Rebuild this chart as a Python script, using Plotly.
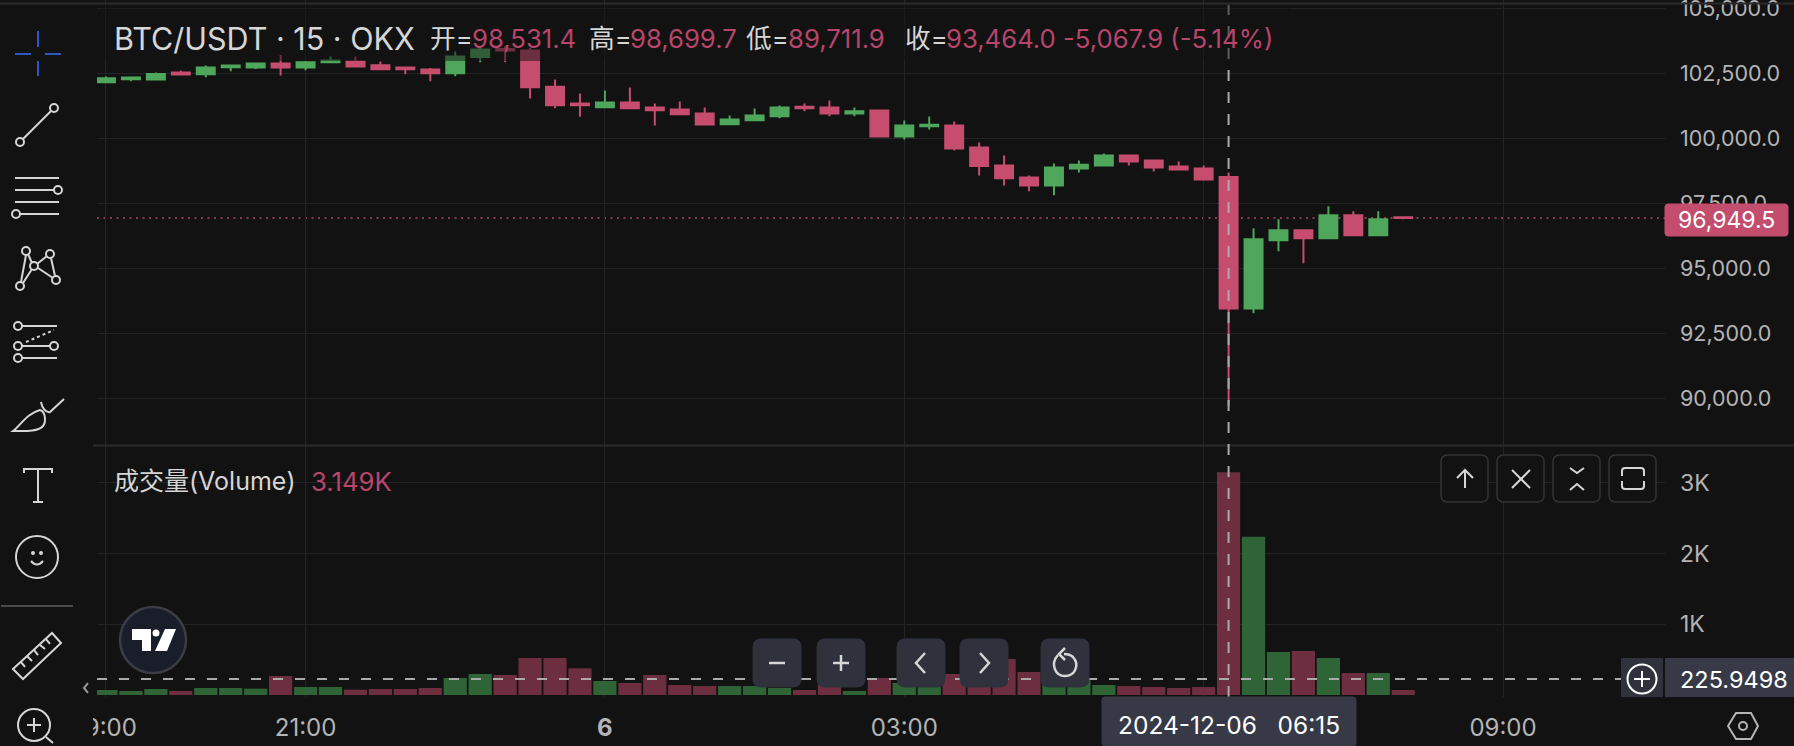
import re

import pandas as pd
import plotly.graph_objects as go
from plotly.subplots import make_subplots

W, H = 1794, 746

times = pd.date_range("2024-12-05 19:00", periods=53, freq="15min")

opens = [102179, 102294, 102281, 102550, 102486, 102756, 102743, 102897, 102743, 102948,
         102973, 102832, 102743, 102666, 102525, 103153, 103461, 103397, 101999, 101358,
         101217, 101397, 101204, 101127, 100974, 100563, 100717, 100871, 101230, 101204,
         100974, 101089, 100089, 100486, 100512, 99666, 98974, 98512, 98204, 98858,
         98974, 99358, 99166, 98935, 98858, 98531.4, 93464, 96089, 96474, 96166,
         97051, 96281, 96980]
highs = [102397, 102384, 102550, 102627, 102820, 102832, 102935, 103230, 102999, 103166,
         103166, 102973, 102768, 102730, 103358, 103563, 103563, 103499, 102281, 101743,
         101858, 101974, 101358, 101435, 101204, 100897, 101166, 101281, 101358, 101474,
         101204, 101089, 100704, 100858, 100666, 99858, 99358, 98589, 99051, 99166,
         99435, 99358, 99166, 99127, 98974, 98699.7, 96551, 96897, 96474, 97397,
         97204, 97204, 96980]
lows = [102179, 102217, 102256, 102435, 102371, 102602, 102691, 102435, 102640, 102909,
        102781, 102666, 102486, 102217, 102409, 102948, 102948, 101550, 101179, 100845,
        101217, 101179, 100512, 100948, 100550, 100525, 100717, 100794, 101063, 100871,
        100871, 100089, 99974, 100358, 99551, 98589, 98204, 97974, 97820, 98704,
        98974, 98974, 98743, 98820, 98435, 89711.9, 93282, 95666, 95205, 96128,
        96281, 96281, 96900]
closes = [102332, 102358, 102499, 102473, 102743, 102820, 102897, 102743, 102948, 103012,
          102781, 102679, 102679, 102525, 103166, 103435, 103397, 101986, 101294, 101294,
          101397, 101179, 101102, 100948, 100550, 100743, 100897, 101204, 101179, 100974,
          101063, 100089, 100512, 100538, 99627, 98948, 98474, 98204, 98897, 98999,
          99358, 99127, 98897, 98820, 98435, 93464, 96128, 96474, 96166, 97051,
          96281, 96897, 96949.5]
volumes = [71, 57, 85, 57, 99, 99, 90, 269, 113, 113,
           76, 85, 85, 99, 241, 297, 283, 524, 524, 378,
           198, 170, 283, 142, 127, 127, 127, 99, 71, 142,
           57, 241, 170, 170, 297, 227, 510, 326, 180, 227,
           142, 127, 113, 99, 113, 3149, 2240, 609, 623, 524,
           311, 311, 71]

x_tick_vals = ["2024-12-05 19:00", "2024-12-05 21:00", "2024-12-06 00:00",
               "2024-12-06 03:00", "2024-12-06 06:00", "2024-12-06 09:00"]
# 06:00 sits under the crosshair date tag, only its gridline shows
x_tick_text = ["19:00", "21:00", "<b>6</b>", "03:00", "", "09:00"]
x_range = ["2024-12-05 18:54:36", "2024-12-06 10:37:24"]
price_ticks = [90000, 92500, 95000, 97500, 100000, 102500, 105000]
volume_ticks = [1000, 2000, 3000]
volume_tick_text = ["1K", "2K", "3K"]

last_price = 96949.5
cursor_time = "2024-12-06 06:15"
cursor_volume = 225.9498

BG = "#121213"
GRID = "#242426"
RED = "#c64d6f"
GREEN = "#4fa75c"
RED_TEXT = "#b8456a"
RED_VOL = "#6d2e40"
GREEN_VOL = "#2f6536"
AXIS_TEXT = "#b4b4b4"
ICON = "#d6d6d6"
TAG = "#373a46"
BTN = "#2f323c"
FONT = "Inter, 'Noto Sans CJK SC', sans-serif"


def path(d, color=ICON, width=2, fill="rgba(0,0,0,0)", dash="solid"):
    # d is written in screen pixels, converted to paper coordinates
    conv = re.sub(r"(-?[\d.]+),(-?[\d.]+)",
                  lambda m: f"{float(m[1]) / W:.5f},{1 - float(m[2]) / H:.5f}", d)
    return dict(type="path", path=conv, xref="paper", yref="paper",
                line=dict(color=color, width=width, dash=dash), fillcolor=fill, layer="above")


def circle(cx, cy, r, color=ICON, fill="rgba(0,0,0,0)", width=2):
    return dict(type="circle", xref="paper", yref="paper",
                x0=(cx - r) / W, x1=(cx + r) / W, y0=1 - (cy + r) / H, y1=1 - (cy - r) / H,
                line=dict(color=color, width=width), fillcolor=fill, layer="above")


def rrect(x0, y0, x1, y1, r, fill, color=None, width=1):
    d = (f"M{x0 + r},{y0} L{x1 - r},{y0} Q{x1},{y0} {x1},{y0 + r} L{x1},{y1 - r} "
         f"Q{x1},{y1} {x1 - r},{y1} L{x0 + r},{y1} Q{x0},{y1} {x0},{y1 - r} "
         f"L{x0},{y0 + r} Q{x0},{y0} {x0 + r},{y0} Z")
    return path(d, fill=fill, color=color or fill, width=width)


def label(x, y, text, color=AXIS_TEXT, size=25.7, anchor="left"):
    return dict(x=x / W, y=1 - y / H, xref="paper", yref="paper", text=text, showarrow=False,
                xanchor=anchor, yanchor="middle", font=dict(family=FONT, size=size, color=color))


fig = make_subplots(rows=2, cols=1, shared_xaxes=True, vertical_spacing=0)

fig.add_trace(go.Candlestick(
    x=times, open=opens, high=highs, low=lows, close=closes,
    increasing=dict(line=dict(color=GREEN, width=2), fillcolor=GREEN),
    decreasing=dict(line=dict(color=RED, width=2), fillcolor=RED),
    whiskerwidth=0, showlegend=False, hoverinfo="skip"), row=1, col=1)
fig.add_trace(go.Bar(
    x=times, y=volumes,
    marker=dict(color=[GREEN_VOL if c >= o else RED_VOL for o, c in zip(opens, closes)], line_width=0),
    showlegend=False, hoverinfo="skip"), row=2, col=1)

shapes = []
# last price line sits behind the candles
shapes.append(dict(type="line", xref="paper", yref="y", x0=97 / W, x1=1665 / W, y0=last_price, y1=last_price,
                   line=dict(color="#b0486a", width=1.5, dash="2px 4.5px"), layer="below"))
shapes.append(path("M0,3.5 L1794,3.5", color="#2a2a2c", width=2))
shapes.append(path("M0,445.5 L1794,445.5", color="#2b2b2d", width=2))

# crosshair
shapes.append(dict(type="line", xref="x", yref="paper", x0=cursor_time, x1=cursor_time, y0=1 - 697 / H, y1=1 - 5 / H,
                   line=dict(color="#aaaaaa", width=2, dash="11px 11px"), layer="above"))
shapes.append(dict(type="line", xref="paper", yref="y2", x0=97 / W, x1=1621 / W, y0=cursor_volume, y1=cursor_volume,
                   line=dict(color="#aaaaaa", width=2, dash="10px 12px"), layer="above"))
# legend veil over the candles
shapes.append(path("M100,5 L1290,5 L1290,61 L100,61 Z", fill="rgba(17,17,19,0.5)", color="rgba(0,0,0,0)", width=0))

# left toolbar, covers the clipped first tick label
shapes.append(path("M0,0 L93,0 L93,746 L0,746 Z", fill=BG, color=BG, width=0))
shapes.append(path("M0,3.5 L93,3.5", color="#2a2a2c", width=2))
BLUE = "#2f57c4"
for d in ["M15,54 L31,54", "M45,54 L61,54", "M38,31 L38,47", "M38,61 L38,76"]:
    shapes.append(path(d, color=BLUE, width=2))
shapes += [circle(20, 142, 4), circle(54, 108, 4), path("M23,139 L51,111")]
shapes += [path("M15,178 L59,178"), path("M15,190 L54,190"), path("M15,202 L59,202"), path("M20,214 L59,214"),
           circle(58, 190, 4), circle(16, 214, 4)]
shapes += [circle(26, 251, 4), circle(50, 254, 4), circle(34, 266, 4), circle(20, 286, 4), circle(56, 280, 4),
           path("M26,255 L21,282"), path("M28,254 L32,263"), path("M37,264 L47,256"), path("M38,268 L53,278"),
           path("M51,258 L55,276"), path("M32,269 L23,283")]
shapes += [path("M22,326 L57,326"), path("M22,346 L50,346"), path("M22,358 L57,358"),
           circle(18, 326, 4), circle(18, 346, 4), circle(54, 346, 4), circle(18, 358, 4),
           path("M26,342 L54,330", dash="dot")]
shapes += [path("M13,431 C22,424 26,414 40,410 C46,412 46,422 43,426 C38,432 24,431 13,431 Z"),
           path("M41,402 C42,408 46,413 50,412 L64,399")]
shapes += [path("M24,473 L24,469 L52,469 L52,473"), path("M38,469 L38,502"), path("M33,502 L43,502")]
shapes += [circle(37, 557, 21), circle(33, 553, 1, fill=ICON), circle(41, 553, 1, fill=ICON),
           path("M31,561 Q37,568 43,561")]
shapes.append(path("M1,606 L73,606", color="#4a4a4c", width=2))
shapes += [path("M13,669 L52,633 L61,643 L23,679 Z"), path("M21,662 L25,667"), path("M27,656 L32,661"),
           path("M34,650 L38,655"), path("M40,645 L45,649"), path("M46,639 L50,644")]
shapes += [circle(34, 725, 16), path("M27,725 L41,725"), path("M34,718 L34,732"), path("M46,737 L53,743")]
shapes.append(path("M88,683 L84,688 L88,693", color="#9a9a9a"))

# tradingview badge
shapes.append(circle(153, 640, 33, color="#3c3c44", fill="#1a1d2a", width=2.5))
shapes.append(path("M132,629 L151,629 L151,651 L142,651 L142,640 L132,640 Z", fill="#ffffff", color="#ffffff", width=0))
shapes.append(circle(156, 633, 3.5, color="#ffffff", fill="#ffffff", width=0))
shapes.append(path("M165,629 L176,629 L167,651 L155,651 Z", fill="#ffffff", color="#ffffff", width=0))

# zoom and scroll buttons
for cx in [777, 841, 921, 984, 1065]:
    shapes.append(rrect(cx - 24, 639, cx + 24, 687, 8, BTN))
shapes += [path("M769,663 L785,663", width=2.5), path("M833,663 L849,663", width=2.5), path("M841,655 L841,671", width=2.5),
           path("M925,653 L916,663 L925,673", width=2.5), path("M980,653 L989,663 L980,673", width=2.5),
           path("M1058,655 C1050,664 1055,676 1065,676 C1075,676 1080,665 1073,657 C1071,655 1068,654 1064,654", width=2.5),
           path("M1065,648 L1059,654 L1065,660", width=2.5)]

# pane buttons
for x0 in [1441, 1497, 1553, 1609]:
    shapes.append(rrect(x0, 455, x0 + 47, 502, 7, BG, color="#333335", width=1.5))
shapes += [path("M1465,488 L1465,470"), path("M1457,478 L1465,470 L1473,478"),
           path("M1512,470 L1530,488"), path("M1530,470 L1512,488"),
           path("M1570,468 L1577,473 L1584,468"), path("M1570,490 L1577,484 L1584,490"),
           path("M1622,476 L1622,471 Q1622,468 1625,468 L1641,468 Q1644,468 1644,471 L1644,476"),
           path("M1622,481 L1622,486 Q1622,489 1625,489 L1641,489 Q1644,489 1644,486 L1644,481")]

# right side tags and footer
shapes.append(rrect(1665, 204, 1788, 236, 3, "#c34d6d"))
shapes.append(path("M1621,658 L1663,658 L1663,697 L1621,697 Z", fill=BTN, color=BTN, width=0))
shapes += [circle(1642, 679, 14.5, color="#ffffff"), path("M1634,679 L1650,679", color="#ffffff"),
           path("M1642,671 L1642,687", color="#ffffff")]
shapes.append(path("M1665,658 L1794,658 L1794,697 L1665,697 Z", fill=TAG, color=TAG, width=0))
shapes.append(rrect(1102, 697, 1356, 746, 3, TAG))
shapes += [path("M1728,726 L1736,713 L1751,713 L1758,726 L1751,739 L1736,739 Z", color="#b5b5b5"),
           circle(1743, 726, 4, color="#b5b5b5")]

annotations = [
    label(112, 38, "BTC/USDT · 15 · OKX", ICON, 30.5),
    label(428, 38, "开=", ICON), label(470, 38, f"{opens[45]:,.1f}", RED_TEXT),
    label(587, 38, "高=", ICON), label(628, 38, f"{highs[45]:,.1f}", RED_TEXT),
    label(744, 38, "低=", ICON), label(786, 38, f"{lows[45]:,.1f}", RED_TEXT),
    label(903, 38, "收=", ICON), label(944, 38, f"{closes[45]:,.1f}", RED_TEXT),
    label(1061, 38, "-5,067.9 (-5.14%)", RED_TEXT),
    label(112, 481, "成交量(Volume)", ICON, 25), label(309, 481, "3.149K", RED_TEXT),
    label(1726, 220, f"{last_price:,.1f}", "#ffffff", 23, "center"),
    label(1678, 679, f"{cursor_volume:.4f}", "#ffffff", 23.5),
    label(1229, 725, "2024-12-06 &nbsp;&nbsp;06:15", "#ffffff", 24.5, "center"),
]

common = dict(ticks="", ticklabelstandoff=14, ticklabeloverflow="allow", automargin=False,
              gridcolor=GRID, gridwidth=1, showline=False, zeroline=False)
fig.update_layout(
    width=W, height=H, margin=dict(l=0, r=0, t=0, b=0, autoexpand=False),
    paper_bgcolor=BG, plot_bgcolor=BG, bargap=0.07, boxgap=0.28, boxgroupgap=0,
    shapes=shapes, annotations=annotations, hovermode=False, dragmode=False,
    xaxis=dict(domain=[97 / W, 1665 / W], range=x_range,
               rangeslider_visible=False, tickvals=x_tick_vals, showticklabels=False, **common),
    xaxis2=dict(domain=[97 / W, 1665 / W], range=x_range, tickvals=x_tick_vals, ticktext=x_tick_text,
                tickfont=dict(family=FONT, size=24, color=AXIS_TEXT), **common),
    yaxis=dict(domain=[1 - 445 / H, 1], range=[88203, 105345], side="right", tickvals=price_ticks,
               tickformat=",.1f", tickfont=dict(family=FONT, size=21.5, color=AXIS_TEXT), **common),
    yaxis2=dict(domain=[1 - 697 / H, 1 - 446 / H], range=[-28, 3522], side="right", tickvals=volume_ticks,
                ticktext=volume_tick_text, tickfont=dict(family=FONT, size=23, color=AXIS_TEXT), **common),
)

fig.write_html("out.html", config=dict(displayModeBar=False),
               post_script="document.body.style.margin='0';document.body.style.overflow='hidden';")
